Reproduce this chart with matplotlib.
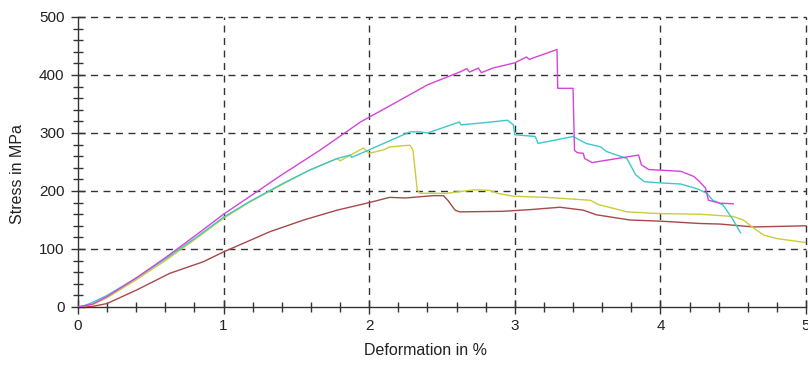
import matplotlib
matplotlib.use("Agg")
import matplotlib.pyplot as plt
from matplotlib.ticker import MultipleLocator

plt.rcParams['font.family'] = ['Liberation Sans', 'DejaVu Sans']

# ---- data ----
magenta_x = [0, 0.1, 0.2, 0.4, 0.6, 0.8, 1.0, 1.2, 1.4, 1.66, 1.94, 2.2, 2.40, 2.63, 2.67, 2.69,
             2.75, 2.77, 2.85, 3.00, 3.08, 3.10, 3.29, 3.295, 3.40, 3.41, 3.43, 3.47, 3.48, 3.53,
             3.85, 3.87, 3.92, 4.14, 4.23, 4.27, 4.31, 4.33, 4.41, 4.50]
magenta_y = [0, 5, 18, 50, 85, 122, 160, 194, 228, 270, 319, 355, 383, 406, 411, 405,
             412, 404, 412, 421, 431, 427, 444, 377, 377, 270, 266, 265, 256, 249,
             262, 245, 237, 234, 225, 216, 205, 184, 179, 178]

cyan_x = [0, 0.05, 0.1, 0.2, 0.4, 0.6, 0.8, 1.0, 1.18, 1.4, 1.59, 1.78, 1.87, 1.88, 2.0, 2.28,
          2.35, 2.40, 2.62, 2.63, 2.80, 2.95, 2.99, 3.00, 3.14, 3.16, 3.40, 3.49, 3.59, 3.63,
          3.70, 3.77, 3.83, 3.89, 4.0, 4.14, 4.25, 4.32, 4.36, 4.43, 4.50, 4.55]
cyan_y = [0, 3, 8, 20, 50, 83, 118, 155, 182, 212, 236, 256, 262, 258, 271, 302,
          302, 300, 319, 314, 318, 322, 314, 297, 294, 282, 294, 282, 276, 268,
          262, 256, 228, 216, 214, 212, 204, 196, 184, 176, 150, 128]

yellow_x = [0, 0.1, 0.2, 0.4, 0.6, 0.8, 1.0, 1.18, 1.4, 1.59, 1.78, 1.80, 1.96, 2.0, 2.10, 2.14,
            2.28, 2.30, 2.33, 2.35, 2.53, 2.72, 2.83, 2.88, 2.99, 3.22, 3.52, 3.57, 3.77, 4.0,
            4.27, 4.50, 4.57, 4.63, 4.71, 4.80, 5.0]
yellow_y = [0, 4, 16, 47, 80, 116, 153, 181, 211, 236, 256, 252, 274, 265, 271, 276,
            279, 271, 202, 196, 196, 202, 201, 196, 191, 189, 184, 177, 164, 161,
            160, 156, 150, 138, 124, 118, 111]

brown_x = [0, 0.1, 0.2, 0.4, 0.63, 0.86, 1.0, 1.32, 1.55, 1.78, 2.0, 2.14, 2.25, 2.44, 2.51,
           2.54, 2.59, 2.62, 2.92, 3.11, 3.31, 3.47, 3.56, 3.79, 4.0, 4.27, 4.41, 4.64, 5.0]
brown_y = [0, 1, 6, 29, 58, 78, 95, 130, 150, 167, 180, 189, 188, 192, 192,
           184, 167, 164, 165, 168, 172, 167, 159, 150, 148, 144, 143, 138, 140]

x_ticks = [0, 1, 2, 3, 4, 5]
y_ticks = [0, 100, 200, 300, 400, 500]

# ---- figure ----
fig = plt.figure(figsize=(8.08, 3.65), dpi=100)
ax = fig.add_axes([78 / 808, 1 - 307 / 365, (806 - 78) / 808, (307 - 17) / 365])

lw = 1.0
ax.plot(brown_x, brown_y, color='#a84848', lw=lw, zorder=3)
ax.plot(yellow_x, yellow_y, color='#cccc3a', lw=lw, zorder=3)
ax.plot(cyan_x, cyan_y, color='#3cc8cc', lw=lw, zorder=3)
ax.plot(magenta_x, magenta_y, color='#d444d8', lw=lw, zorder=4)

ax.set_xlim(0, 5)
ax.set_ylim(0, 500)
ax.set_xticks(x_ticks)
ax.set_yticks(y_ticks)
ax.xaxis.set_minor_locator(MultipleLocator(0.2))
ax.yaxis.set_minor_locator(MultipleLocator(20))

for s in ['top', 'right']:
    ax.spines[s].set_visible(False)
for s in ['left', 'bottom']:
    ax.spines[s].set_color('#333333')
    ax.spines[s].set_linewidth(1.0)

ax.tick_params(which='major', direction='inout', length=9.5, width=1.0, color='#333333',
               labelsize=11, labelcolor='#222222')
ax.tick_params(which='minor', direction='inout', length=7.5, width=1.0, color='#333333')
ax.tick_params(axis='x', which='major', pad=4)
ax.tick_params(axis='y', which='major', pad=5)

for v in y_ticks[1:]:
    ax.axhline(v, color='#333333', lw=1.0, ls=(0, (5, 4)), zorder=1, clip_on=False)
for v in x_ticks[1:]:
    ax.axvline(v, color='#333333', lw=1.0, ls=(0, (5, 4)), zorder=1, clip_on=False)

ax.set_xlabel('Deformation in %', fontsize=11.5, color='#222222', va='top')
ax.set_ylabel('Stress in MPa', fontsize=11.5, color='#222222')
ax.xaxis.set_label_coords((425 - 78) / 728, (307 - 343) / 290)
ax.yaxis.set_label_coords((25 - 78) / 728, (307 - 174) / 290)

fig.savefig('out.png', dpi=100)
